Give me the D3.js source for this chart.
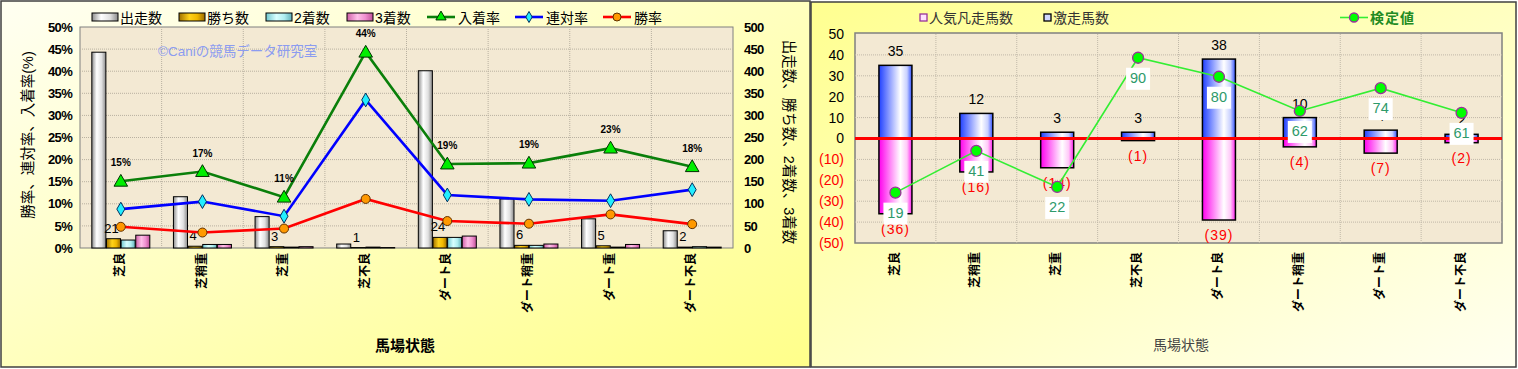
<!DOCTYPE html>
<html><head><meta charset="utf-8">
<script src="https://cdn.jsdelivr.net/npm/d3@7/dist/d3.min.js"></script>
<style>
html,body{margin:0;padding:0;background:#fff;}
svg{display:block;font-family:"Liberation Sans","Noto Sans CJK JP",sans-serif;}
</style></head>
<body>
<svg id="c" width="1518" height="369"></svg>
<script>
// ---------- data ----------
const categories = ["芝良","芝稍重","芝重","芝不良","ダート良","ダート稍重","ダート重","ダート不良"];
const runs    = [443,116,71,9,401,111,66,39];
const wins    = [21,4,3,1,24,6,5,2];
const seconds = [18,8,2,2,24,6,2,3];
const thirds  = [29,8,3,1,27,9,8,2];
const placeRate    = [15.1,17.3,11.5,44.3,19.0,19.2,22.6,18.4];
const quinellaRate = [8.8,10.5,7.2,33.5,12.0,11.0,10.7,13.2];
const winRate      = [4.8,3.5,4.4,11.1,6.1,5.5,7.6,5.4];
const placeRateLabels = ["15%","17%","11%","44%","19%","19%","23%","18%"];
const pctTicks = [0,5,10,15,20,25,30,35,40,45,50];
const countTicks = [0,50,100,150,200,250,300,350,400,450,500];
const barSeries = ["出走数","勝ち数","2着数","3着数"];
const lineSeries = ["入着率","連対率","勝率"];

const gekisou = [35,12,3,3,38,10,4,2];      // 激走馬数
const bonsou  = [36,16,14,1,39,4,7,2];      // 人気凡走馬数
const kentei  = [19,41,22,90,80,62,74,61];  // 検定値
const diffTicks = [-50,-40,-30,-20,-10,0,10,20,30,40,50];

const svg = d3.select("#c");
const defs = svg.append("defs");
function hGrad(id, stops){
  const g = defs.append("linearGradient").attr("id",id).attr("x1","0").attr("x2","1").attr("y1","0").attr("y2","0");
  stops.forEach(s=>g.append("stop").attr("offset",s[0]).attr("stop-color",s[1]));
}
function dGrad(id, c1, c2){
  const g = defs.append("linearGradient").attr("id",id).attr("x1","0").attr("y1","0").attr("x2","1").attr("y2","1");
  g.append("stop").attr("offset","0").attr("stop-color",c1);
  g.append("stop").attr("offset","1").attr("stop-color",c2);
}
dGrad("bgL","#fffff2","#ffff8a");
dGrad("bgR","#ffff90","#fffff0");
hGrad("gRun",[[0,"#8c8c8c"],[0.35,"#ffffff"],[0.7,"#e0e0e0"],[1,"#8a8a8a"]]);
hGrad("gWin",[[0,"#a07000"],[0.4,"#ffd21a"],[0.7,"#f0b800"],[1,"#9a6a00"]]);
hGrad("g2",[[0,"#70c8d0"],[0.4,"#d8ffff"],[0.7,"#b0eef0"],[1,"#60b0b8"]]);
hGrad("g3",[[0,"#d060a8"],[0.4,"#ffc0e8"],[0.7,"#f090d0"],[1,"#c05098"]]);
hGrad("gBlue",[[0,"#2040ff"],[0.65,"#ffffff"],[0.85,"#c8d0ff"],[1,"#3050ff"]]);
hGrad("gPink",[[0,"#ff00ee"],[0.65,"#ffffff"],[0.85,"#ffc8f8"],[1,"#ff20ee"]]);
const barFills = ["url(#gRun)","url(#gWin)","url(#g2)","url(#g3)"];

// ---------- backgrounds / frames ----------
svg.append("rect").attr("x",1).attr("y",1).attr("width",809).attr("height",366)
  .attr("fill","url(#bgL)").attr("stroke","#404040").attr("stroke-width",1.5);
svg.append("rect").attr("x",811).attr("y",2).attr("width",705).attr("height",365)
  .attr("fill","url(#bgR)").attr("stroke","#404040").attr("stroke-width",1.5);

// =============== LEFT CHART ===============
const L = {x0:80, x1:733, y0:27, y1:248};
const xL = d3.scaleBand().domain(categories).range([L.x0,L.x1]).padding(0);
const yPct = d3.scaleLinear().domain([0,50]).range([L.y1,L.y0]);
const yCnt = d3.scaleLinear().domain([0,500]).range([L.y1,L.y0]);
const gL = svg.append("g");
gL.append("rect").attr("x",L.x0).attr("y",L.y0).attr("width",L.x1-L.x0).attr("height",L.y1-L.y0)
  .attr("fill","#f3e9d3").attr("stroke","#808080");
// grid
gL.selectAll(".hg").data(pctTicks.slice(1,-1)).join("line")
  .attr("x1",L.x0).attr("x2",L.x1).attr("y1",d=>yPct(d)).attr("y2",d=>yPct(d))
  .attr("stroke","#b8b0a0").attr("stroke-dasharray","1,1");
gL.selectAll(".vg").data(categories.slice(1)).join("line")
  .attr("x1",d=>xL(d)).attr("x2",d=>xL(d)).attr("y1",L.y0).attr("y2",L.y1)
  .attr("stroke","#b8b0a0").attr("stroke-dasharray","1,1");
// watermark
gL.append("text").attr("x",158).attr("y",56).attr("font-size",13.5).attr("fill","#8c9cf0")
  .text("©Caniの競馬データ研究室");
// axes
const axLeft = d3.axisLeft(yPct).tickValues(pctTicks).tickFormat(d=>d+"%").tickSize(0).tickPadding(8);
const axl = gL.append("g").attr("transform",`translate(${L.x0},0)`).call(axLeft);
axl.select(".domain").remove();
axl.selectAll("text").attr("font-size",13).attr("font-weight","bold").attr("fill","#000").attr("letter-spacing","-0.7");
const axRight = d3.axisRight(yCnt).tickValues(countTicks).tickSize(0).tickPadding(11);
const axr = gL.append("g").attr("transform",`translate(${L.x1},0)`).call(axRight);
axr.select(".domain").remove();
axr.selectAll("text").attr("font-size",13).attr("font-weight","bold").attr("fill","#000").attr("letter-spacing","-0.7");
// bars
const inner = d3.scaleBand().domain(d3.range(4)).range([0,58]).paddingInner(0.04);
const barData = [runs,wins,seconds,thirds];
categories.forEach((c,i)=>{
  const gx = xL(c)+xL.bandwidth()/2-29;
  barData.forEach((arr,s)=>{
    gL.append("rect").attr("x",gx+inner(s)).attr("y",yCnt(arr[i]))
      .attr("width",inner.bandwidth()).attr("height",yCnt(0)-yCnt(arr[i]))
      .attr("fill",barFills[s]).attr("stroke","#000").attr("stroke-width",1);
  });
  // wins data label
  gL.append("text").attr("x",gx+inner(1)+inner.bandwidth()/2-2).attr("y",yCnt(wins[i])-6)
    .attr("text-anchor","middle").attr("font-size",13).attr("fill","#000").text(wins[i]);
});
// lines
const cx = c=>xL(c)+xL.bandwidth()/2;
function drawLine(arr,color){
  gL.append("path").datum(arr).attr("fill","none").attr("stroke",color).attr("stroke-width",2.6)
    .attr("d",d3.line().x((d,i)=>cx(categories[i])).y(d=>yPct(d)));
}
drawLine(placeRate,"#0a7f0a");
drawLine(quinellaRate,"#0000ff");
drawLine(winRate,"#ff0000");
const tri = d3.symbol().type(d3.symbolTriangle).size(80);
const dia = d3.symbol().type(d3.symbolDiamond).size(55);
placeRate.forEach((v,i)=>{
  gL.append("path").attr("d",tri()).attr("transform",`translate(${cx(categories[i])},${yPct(v)+1})`)
    .attr("fill","#00ee00").attr("stroke","#003000").attr("stroke-width",1);
});
quinellaRate.forEach((v,i)=>{
  gL.append("path").attr("d",dia()).attr("transform",`translate(${cx(categories[i])},${yPct(v)})`)
    .attr("fill","#22eeff").attr("stroke","#003060").attr("stroke-width",1);
});
winRate.forEach((v,i)=>{
  gL.append("circle").attr("cx",cx(categories[i])).attr("cy",yPct(v)).attr("r",4.5)
    .attr("fill","#ff9900").attr("stroke","#603000").attr("stroke-width",1);
});
placeRate.forEach((v,i)=>{
  gL.append("text").attr("x",cx(categories[i])).attr("y",yPct(v)-15)
    .attr("text-anchor","middle").attr("font-size",10).attr("font-weight","bold").attr("fill","#000")
    .text(placeRateLabels[i]);
});
// x labels
categories.forEach(c=>{
  gL.append("text").attr("transform",`translate(${cx(c)},253) rotate(-90)`)
    .attr("text-anchor","end").attr("dominant-baseline","middle")
    .attr("font-size",12).attr("font-weight","bold").attr("fill","#000").text(c);
});
// titles
gL.append("text").attr("x",405).attr("y",351).attr("text-anchor","middle")
  .attr("font-size",15).attr("font-weight","bold").text("馬場状態");
gL.append("text").attr("transform","translate(29,135) rotate(-90)").attr("text-anchor","middle")
  .attr("dominant-baseline","middle").attr("font-size",14.5).text("勝率、連対率、入着率(%)");
gL.append("text").attr("transform","translate(788,142) rotate(90)").attr("text-anchor","middle")
  .attr("dominant-baseline","middle").attr("font-size",14.5).text("出走数、勝ち数、2着数、3着数");
// legend
const legBarX = [92,179,266,347];
barSeries.forEach((s,k)=>{
  gL.append("rect").attr("x",legBarX[k]).attr("y",13).attr("width",26).attr("height",8)
    .attr("fill",barFills[k]).attr("stroke","#000");
  gL.append("text").attr("x",legBarX[k]+28).attr("y",22.5).attr("font-size",14).text(s);
});
const legLineX = [427,515,603];
const lineColors = ["#0a7f0a","#0000ff","#ff0000"];
lineSeries.forEach((s,k)=>{
  const x0 = legLineX[k];
  gL.append("line").attr("x1",x0).attr("x2",x0+28).attr("y1",17).attr("y2",17)
    .attr("stroke",lineColors[k]).attr("stroke-width",2.6);
  const m = gL.append("g").attr("transform",`translate(${x0+14},17)`);
  if(k===0) m.append("path").attr("d",d3.symbol().type(d3.symbolTriangle).size(45)()).attr("fill","#00ee00").attr("stroke","#003000");
  if(k===1) m.append("path").attr("d",d3.symbol().type(d3.symbolDiamond).size(35)()).attr("fill","#22eeff").attr("stroke","#003060");
  if(k===2) m.append("circle").attr("r",4).attr("fill","#ff9900").attr("stroke","#603000");
  gL.append("text").attr("x",x0+31).attr("y",22.5).attr("font-size",14).text(s);
});

// =============== RIGHT CHART ===============
const R = {x0:855, x1:1502, y0:34, y1:243};
const xR = d3.scaleBand().domain(categories).range([R.x0,R.x1]).padding(0);
const yD = d3.scaleLinear().domain([-50,50]).range([R.y1,R.y0]);
const yK = d3.scaleLinear().domain([-7.5,102.5]).range([R.y1,R.y0]); // hidden secondary axis
const gR = svg.append("g");
gR.append("rect").attr("x",R.x0).attr("y",R.y0-1).attr("width",R.x1-R.x0).attr("height",R.y1-R.y0+1)
  .attr("fill","#f3e9d3").attr("stroke","#808080").attr("stroke-width",1.5);
gR.selectAll(".hg").data(diffTicks.slice(1,-1)).join("line")
  .attr("x1",R.x0).attr("x2",R.x1).attr("y1",d=>yD(d)).attr("y2",d=>yD(d))
  .attr("stroke","#c0b8a8").attr("stroke-dasharray","1,1");
gR.selectAll(".vg").data(categories.slice(1)).join("line")
  .attr("x1",d=>xR(d)).attr("x2",d=>xR(d)).attr("y1",R.y0).attr("y2",R.y1)
  .attr("stroke","#c0b8a8").attr("stroke-dasharray","1,1");
const axD = d3.axisLeft(yD).tickValues(diffTicks).tickSize(0).tickPadding(11)
  .tickFormat(d=>d<0?`(${-d})`:d);
const axd = gR.append("g").attr("transform",`translate(${R.x0},0)`).call(axD);
axd.select(".domain").remove();
axd.selectAll("text").attr("font-size",14).attr("fill",d=>d<0?"#ff0000":"#000");
const cxR = c=>xR(c)+xR.bandwidth()/2;
const bw = 33;
categories.forEach((c,i)=>{
  gR.append("rect").attr("x",cxR(c)-bw/2).attr("y",yD(0)).attr("width",bw).attr("height",yD(-bonsou[i])-yD(0))
    .attr("fill","url(#gPink)").attr("stroke","#000").attr("stroke-width",1.5);
  gR.append("rect").attr("x",cxR(c)-bw/2).attr("y",yD(gekisou[i])).attr("width",bw).attr("height",yD(0)-yD(gekisou[i]))
    .attr("fill","url(#gBlue)").attr("stroke","#000").attr("stroke-width",1.5);
});
gR.append("line").attr("x1",R.x0).attr("x2",R.x1).attr("y1",yD(0)).attr("y2",yD(0))
  .attr("stroke","#ff0000").attr("stroke-width",3);
categories.forEach((c,i)=>{
  gR.append("text").attr("x",cxR(c)).attr("y",yD(gekisou[i])-9).attr("text-anchor","middle")
    .attr("font-size",14).attr("fill","#000").text(gekisou[i]);
  gR.append("text").attr("x",cxR(c)).attr("y",yD(-bonsou[i])+20).attr("text-anchor","middle")
    .attr("font-size",14).attr("fill","#ff0000").attr("letter-spacing","1").text(`(${bonsou[i]})`);
});
gR.append("path").datum(kentei).attr("fill","none").attr("stroke","#33ee33").attr("stroke-width",1.6)
  .attr("d",d3.line().x((d,i)=>cxR(categories[i])).y(d=>yK(d)));
kentei.forEach((v,i)=>{
  gR.append("circle").attr("cx",cxR(categories[i])).attr("cy",yK(v)).attr("r",5.5)
    .attr("fill","#00ff00").attr("stroke","#993399").attr("stroke-width",1.3);
});
kentei.forEach((v,i)=>{
  const x = cxR(categories[i]), y = yK(v)+20;
  gR.append("rect").attr("x",x-12).attr("y",y-10).attr("width",24).attr("height",22).attr("fill","#fff");
  gR.append("text").attr("x",x).attr("y",y+5).attr("text-anchor","middle")
    .attr("font-size",14.5).attr("fill","#2e9a6a").text(v);
});
categories.forEach(c=>{
  gR.append("text").attr("transform",`translate(${cxR(c)},252) rotate(-90)`)
    .attr("text-anchor","end").attr("dominant-baseline","middle")
    .attr("font-size",12).attr("font-weight","bold").attr("fill","#000").text(c);
});
gR.append("text").attr("x",1181).attr("y",350).attr("text-anchor","middle")
  .attr("font-size",14).attr("fill","#444").text("馬場状態");
// legend
gR.append("rect").attr("x",920).attr("y",14).attr("width",7).attr("height",7)
  .attr("fill","#ffe0ff").attr("stroke","#993399").attr("stroke-width",1.3);
gR.append("text").attr("x",929).attr("y",23).attr("font-size",14).attr("fill","#333").text("人気凡走馬数");
gR.append("rect").attr("x",1044).attr("y",14).attr("width",7).attr("height",7)
  .attr("fill","#d0d8ff").attr("stroke","#000").attr("stroke-width",1.3);
gR.append("text").attr("x",1053).attr("y",23).attr("font-size",14).attr("fill","#333").text("激走馬数");
gR.append("line").attr("x1",1340).attr("x2",1368).attr("y1",17.5).attr("y2",17.5).attr("stroke","#33ee33").attr("stroke-width",1.6);
gR.append("circle").attr("cx",1354).attr("cy",17.5).attr("r",4.5).attr("fill","#00ff00").attr("stroke","#993399").attr("stroke-width",1.3);
gR.append("text").attr("x",1370).attr("y",23).attr("font-size",14).attr("font-weight","bold")
  .attr("fill","#228b22").attr("letter-spacing","1").text("検定値");
</script>
</body></html>
